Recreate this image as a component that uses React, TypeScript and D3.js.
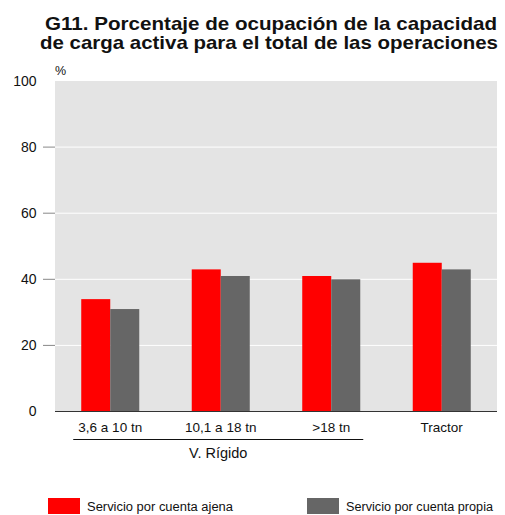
import React from 'react';
import * as d3 from 'd3';

// datos
const categories = ['3,6 a 10 tn', '10,1 a 18 tn', '>18 tn', 'Tractor'];
const seriesNames = ['Servicio por cuenta ajena', 'Servicio por cuenta propia'];
const ajena = [34, 43, 41, 45];
const propia = [31, 41, 40, 43];
const yTicks = [0, 20, 40, 60, 80, 100];
const groupLabel = 'V. Rígido';

const colors = ['#ff0000', '#666666'];
const font = '"Liberation Sans", Arial, sans-serif';

export default function App() {
  const width = 505, height = 515;
  const margin = { top: 81, right: 8, bottom: 103.5, left: 55 };
  const plotBottom = height - margin.bottom;

  const x = d3.scaleBand<string>()
    .domain(categories)
    .range([margin.left, width - margin.right])
    .paddingInner(0.475)
    .paddingOuter(0.2375);
  const x1 = d3.scaleBand<string>()
    .domain(seriesNames)
    .range([0, x.bandwidth()]);
  const y = d3.scaleLinear().domain([0, 100]).range([plotBottom, margin.top]);

  const series = [ajena, propia];
  // corchete bajo los tres grupos de vehículo rígido
  const bracketStart = x(categories[0])! - 8;
  const bracketEnd = x(categories[2])! + x.bandwidth() + 3;

  return (
    <svg width={width} height={height} style={{ position: 'absolute', left: 0, top: 0 }} fontFamily={font}>
      <text x={45} y={29.5} fontSize={19} fontWeight="bold" fill="#111"
        textLength={452} lengthAdjust="spacingAndGlyphs">
        G11. Porcentaje de ocupación de la capacidad
      </text>
      <text x={40} y={48.5} fontSize={19} fontWeight="bold" fill="#111"
        textLength={458} lengthAdjust="spacingAndGlyphs">
        de carga activa para el total de las operaciones
      </text>

      <rect x={margin.left} y={margin.top} width={width - margin.right - margin.left}
        height={plotBottom - margin.top} fill="#e4e4e4" />

      {yTicks.filter(t => t > 0 && t < 100).map(t => (
        <g key={t}>
          <line x1={margin.left} x2={width - margin.right} y1={y(t)} y2={y(t)} stroke="#fff" strokeWidth={1} />
          <line x1={43} x2={margin.left} y1={y(t)} y2={y(t)} stroke="#888" strokeWidth={1} />
        </g>
      ))}
      {yTicks.map(t => (
        <text key={'l' + t} x={36.5} y={y(t)} dy="0.35em" textAnchor="end" fontSize={14} fill="#111">{t}</text>
      ))}
      <text x={55} y={75} fontSize={12.5} fill="#111">%</text>

      {categories.map((c, i) => (
        <g key={c} transform={`translate(${x(c)},0)`}>
          {series.map((s, j) => (
            <rect key={j} x={x1(seriesNames[j])} y={y(s[i])} width={x1.bandwidth()}
              height={plotBottom - y(s[i])} fill={colors[j]} />
          ))}
        </g>
      ))}

      <line x1={margin.left} x2={width - margin.right} y1={plotBottom} y2={plotBottom} stroke="#333" strokeWidth={1} />

      {categories.map(c => (
        <text key={'c' + c} x={x(c)! + x.bandwidth() / 2} y={431.5} textAnchor="middle" fontSize={13.5} fill="#111">{c}</text>
      ))}
      <line x1={bracketStart} x2={bracketEnd} y1={439.5} y2={439.5} stroke="#111" strokeWidth={1} />
      <text x={(bracketStart + bracketEnd) / 2} y={458} textAnchor="middle" fontSize={14.5} fill="#111">{groupLabel}</text>

      {seriesNames.map((n, j) => (
        <g key={n} transform={`translate(${j === 0 ? 48 : 307},498)`}>
          <rect width={32} height={16} fill={colors[j]} />
          <text x={39} y={13} fontSize={12.5} fill="#111"
            textLength={j === 0 ? 146 : 147} lengthAdjust="spacingAndGlyphs">{n}</text>
        </g>
      ))}
    </svg>
  );
}
